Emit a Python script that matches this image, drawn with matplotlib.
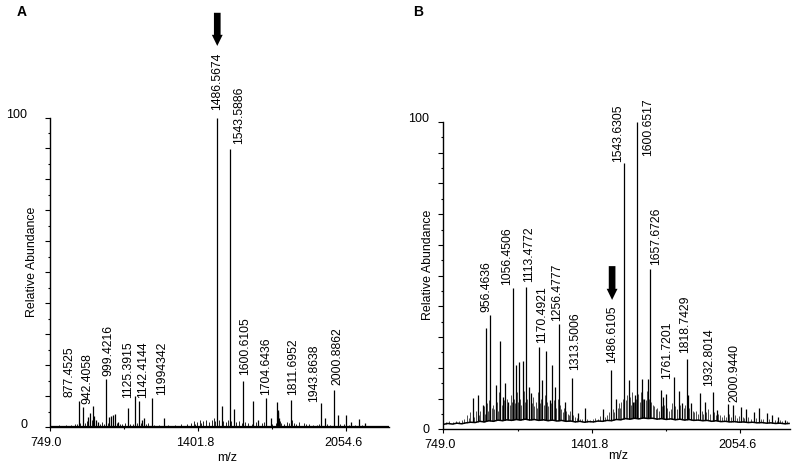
import matplotlib
matplotlib.use("Agg")
import matplotlib.pyplot as plt
import numpy as np
from matplotlib.patches import FancyArrowPatch
from matplotlib.transforms import ScaledTranslation

plt.rcParams['font.family'] = ['Liberation Sans', 'DejaVu Sans']

# ---------------- Panel A data ----------------
A_peak_mz = [877.4525, 898, 919, 929, 942.4058, 947, 955, 962, 999.4216, 1013, 1021, 1029,
             1038, 1051, 1095, 1125.3915, 1142.4144, 1158, 1166, 1199.4342, 1255,
             1486.5674, 1507, 1543.5886, 1561, 1600.6105, 1646, 1667, 1704.6436, 1723,
             1750.7, 1753.5, 1756.5, 1760, 1811.6952, 1943.8638, 1962, 2000.8862,
             2020.6, 2054.5, 2079, 2113, 2138]
A_peak_h = [8.6, 6.5, 3.2, 4.7, 6.9, 3.7, 2.2, 1.8, 15.5, 3.2, 3.5, 4.0,
            4.3, 1.8, 6.2, 10.1, 8.6, 2.2, 3.1, 9.5, 2.9,
            100.0, 6.9, 89.7, 5.8, 15.1, 8.6, 2.4, 9.4, 2.9,
            8.2, 5.6, 4.8, 3.0, 8.8, 8.0, 2.9, 11.9,
            4.0, 4.0, 1.8, 2.6, 1.3]
A_grass_mz = [790, 820, 845, 860, 870, 885, 905, 912, 935, 952, 970, 980, 990, 1005, 1045,
              1060, 1070, 1080, 1105, 1115, 1133, 1150, 1175, 1185, 1210, 1230, 1270, 1300,
              1330, 1355, 1370, 1385, 1392, 1400, 1412, 1418, 1425, 1440, 1452, 1465, 1475,
              1480, 1495, 1515, 1525, 1535, 1550, 1570, 1582, 1595, 1610, 1622, 1640, 1660,
              1685, 1695, 1730, 1745, 1765, 1770, 1782, 1795, 1805, 1818, 1825, 1835, 1848,
              1868, 1880, 1890, 1910, 1925, 1935, 1970, 1985, 2030, 2045, 2070, 2095, 2125,
              2160, 2190, 2220]
A_grass_h = [0.6, 0.8, 0.7, 1.2, 1.0, 1.5, 1.3, 2.0, 2.5, 1.5, 1.2, 1.8, 1.0, 1.3, 1.5,
             1.2, 1.0, 1.4, 1.0, 1.2, 1.5, 1.3, 1.0, 1.4, 0.8, 0.7, 0.6, 0.8,
             1.0, 1.2, 1.5, 2.0, 1.2, 1.8, 2.2, 1.5, 2.0, 2.5, 1.8, 2.4, 3.0,
             2.0, 2.5, 2.0, 1.8, 2.5, 2.0, 1.6, 2.0, 1.5, 1.8, 1.5, 1.2, 1.6,
             1.4, 1.8, 1.2, 1.5, 2.0, 1.4, 1.2, 1.6, 1.5, 2.2, 1.5, 1.2, 1.8,
             1.5, 1.2, 1.0, 0.8, 0.9, 1.0, 1.0, 0.8, 1.0, 1.2, 0.8, 0.7, 0.6,
             0.5, 0.5, 0.4]
A_labels = ['877.4525', '942.4058', '999.4216', '1125.3915', '1142.4144', '11994342',
            '1486.5674', '1543.5886', '1600.6105', '1704.6436', '1811.6952', '1943.8638',
            '2000.8862']
A_label_mz = [877.4525, 942.4058, 999.4216, 1125.3915, 1142.4144, 1199.4342,
              1486.5674, 1543.5886, 1600.6105, 1704.6436, 1811.6952, 1943.8638, 2000.8862]
A_arrow_mz = 1486.5674

# ---------------- Panel B data ----------------
B_peak_mz = [878, 900, 922, 936, 956.4636, 980, 1000, 1013, 1022, 1035, 1056.4506, 1069,
             1081, 1098.6, 1113.4772, 1125, 1135, 1170.4921, 1185, 1201, 1216, 1229, 1241,
             1256.4777, 1285, 1313.5006, 1340, 1371, 1453, 1486.6105, 1509, 1543.6305,
             1564, 1582, 1592, 1600.6517, 1622, 1633, 1649, 1657.6726, 1704.5, 1715, 1727,
             1761.7201, 1784, 1800, 1818.7429, 1826, 1840, 1876, 1898, 1932.8014, 1950,
             2000.9440, 2023, 2058, 2080, 2114, 2136, 2170, 2195, 2220, 2249]
B_peak_h = [10.1, 11.2, 7.8, 33.1, 37.2, 14.4, 28.6, 10.4, 15.0, 9.0, 45.9, 20.9,
            21.8, 22.2, 46.2, 13.9, 11.7, 26.9, 16.0, 25.6, 9.5, 20.8, 13.7,
            34.2, 9.0, 16.8, 5.2, 6.8, 6.5, 19.3, 9.8, 86.6,
            16.0, 9.0, 11.2, 100.0, 16.5, 9.8, 16.5, 52.2, 12.8, 10.4, 11.5,
            16.9, 12.5, 8.5, 22.8, 11.2, 8.5, 11.9, 8.8, 12.3, 6.3,
            8.2, 7.9, 7.2, 6.6, 5.7, 6.8, 5.2, 4.7, 3.9, 3.0]
B_grass_mz = [760, 775, 790, 805, 818, 830, 842, 852, 860, 868, 885, 893, 906, 912, 927, 931,
              942, 947, 951, 962, 969, 974, 985, 991, 995, 1005, 1017, 1027, 1031, 1042,
              1047, 1051, 1061, 1065, 1074, 1077, 1086, 1092, 1103, 1108, 1119, 1125, 1137,
              1142, 1148, 1155, 1160, 1165, 1176, 1180, 1191, 1196, 1206, 1211, 1223, 1235,
              1246, 1251, 1262, 1268, 1275, 1280, 1290, 1296, 1302, 1308, 1320, 1328, 1335,
              1348, 1360, 1380, 1392, 1405, 1418, 1430, 1440, 1460, 1470, 1478, 1495, 1500,
              1515, 1520, 1526, 1532, 1537, 1550, 1555, 1570, 1575, 1580, 1586, 1595, 1606,
              1612, 1617, 1628, 1639, 1644, 1652, 1664, 1670, 1676, 1683, 1690, 1696, 1710,
              1720, 1733, 1740, 1748, 1755, 1768, 1775, 1790, 1797, 1805, 1812, 1830, 1838,
              1845, 1852, 1860, 1868, 1884, 1890, 1905, 1912, 1920, 1940, 1948, 1958, 1966,
              1975, 1985, 1992, 2005, 2015, 2030, 2040, 2050, 2065, 2072, 2088, 2100, 2122,
              2145, 2155, 2180, 2205, 2215, 2230, 2240, 2260]
B_grass_h = [2.4, 2.6, 2.5, 2.8, 2.6, 3.0, 3.2, 4.5, 3.8, 5.5, 4.0, 5.8, 4.5, 6.0, 7.5, 5.0,
             8.5, 6.0, 9.5, 7.0, 8.0, 6.5, 9.0, 6.0, 12.0, 8.0, 9.5, 7.5, 10.0, 8.0,
             11.0, 9.0, 10.0, 8.5, 12.0, 9.0, 10.0, 8.0, 12.5, 9.0, 10.0, 13.0, 8.5,
             10.5, 7.5, 9.0, 7.0, 12.0, 8.5, 10.0, 8.0, 11.0, 9.0, 7.5, 8.5, 9.5,
             7.0, 10.0, 8.0, 6.5, 5.5, 7.0, 6.0, 5.0, 4.5, 6.0, 4.5, 4.0, 3.8,
             3.5, 3.3, 3.5, 3.0, 3.2, 3.6, 3.4, 4.2, 4.0, 4.8, 5.5, 6.5, 5.5,
             7.0, 8.5, 7.0, 9.0, 10.0, 9.5, 11.0, 10.5, 8.0, 12.0, 9.0, 10.0, 11.5,
             9.0, 12.0, 10.0, 9.5, 12.5, 10.0, 9.0, 8.0, 7.5, 6.5, 7.0, 6.0, 7.5,
             8.0, 7.0, 6.0, 6.5, 8.5, 7.5, 6.5, 8.0, 6.5, 7.0, 8.0, 7.0, 6.5,
             6.0, 5.5, 6.0, 5.0, 6.0, 5.0, 5.5, 6.5, 5.0, 5.5, 4.5, 5.0, 4.5,
             4.0, 4.5, 4.0, 5.0, 4.0, 4.5, 3.8, 4.2, 4.0, 3.6, 4.0, 3.5, 3.6,
             3.3, 3.5, 3.2, 3.0, 2.8, 2.9, 2.6, 2.7]
B_base_mz = [749, 769, 789, 809, 829, 849, 869, 889, 909, 929, 949, 969, 989, 1009, 1029,
             1049, 1069, 1089, 1109, 1129, 1149, 1169, 1189, 1209, 1229, 1249, 1269, 1289,
             1309, 1329, 1349, 1369, 1389, 1409, 1429, 1449, 1469, 1489, 1509, 1529, 1549,
             1569, 1589, 1609, 1629, 1649, 1669, 1689, 1709, 1729, 1749, 1769, 1789, 1809,
             1829, 1849, 1869, 1889, 1909, 1929, 1949, 1969, 1989, 2009, 2029, 2049, 2069,
             2089, 2109, 2129, 2149, 2169, 2189, 2209, 2229, 2249, 2269]
B_base_h = [1.6, 1.9, 1.7, 2.0, 1.8, 2.1, 2.3, 2.2, 2.6, 2.4, 2.8, 2.6, 3.0, 2.8, 3.1,
            2.9, 3.2, 3.0, 3.3, 3.0, 3.2, 2.9, 3.1, 2.8, 3.0, 2.7, 2.9, 2.6,
            2.7, 2.4, 2.6, 2.3, 2.5, 2.4, 2.7, 2.6, 2.9, 2.8, 3.2, 3.1, 3.5,
            3.3, 3.6, 3.4, 3.7, 3.5, 3.6, 3.3, 3.5, 3.2, 3.4, 3.1, 3.3, 3.0,
            3.2, 2.9, 3.0, 2.8, 2.9, 2.6, 2.8, 2.5, 2.6, 2.4, 2.5, 2.3, 2.4,
            2.2, 2.3, 2.1, 2.2, 2.0, 2.1, 1.9, 2.0, 1.8, 1.9]
B_labels = ['956.4636', '1056.4506', '1113.4772', '1170.4921', '1256.4777', '1313.5006',
            '1486.6105', '1543.6305', '1600.6517', '1657.6726', '1761.7201', '1818.7429',
            '1932.8014', '2000.9440']
B_label_mz = [956.4636, 1056.4506, 1113.4772, 1170.4921, 1256.4777, 1313.5006,
              1486.6105, 1543.6305, 1600.6517, 1657.6726, 1761.7201, 1818.7429,
              1932.8014, 2000.9440]
B_arrow_mz = 1486.6105

x_ticks = [749.0, 1401.8, 2054.6]
x_tick_labels = ['749.0', '1401.8', '2054.6']

# ---------------- layout (pixel offsets of labels) ----------------
A_label_off = [(-9, 4), (-6, 1.5), (2, 3), (-7, -2), (4, 2.5), (10.5, 3), (0.5, 8),
               (9, 5), (2.5, 5.5), (0, 3), (2, 5), (-7, 0.5), (3.5, 5.5)]
B_label_off = [(-4.5, 3.3), (-6, 3), (3, 5.3), (2.6, 3.4), (-2, 3.6), (3.4, 7.7), (1, 6.7),
               (-5.6, 1), (11.4, -34), (6.2, 4), (-6.7, -1.6), (-1.4, 6), (-3, 5.7),
               (6.5, 2.4)]

W, H = 800, 467
fig = plt.figure(figsize=(8, 4.67), dpi=100)
axA = fig.add_axes([49.5 / W, (H - 427.3) / H, (388.5 - 49.5) / W, (427.3 - 117.5) / H])
axB = fig.add_axes([443.3 / W, (H - 429.3) / H, (790 - 443.3) / W, (429.3 - 122.0) / H])

FS = 8.8


def style(ax, xmax, ypad, lab_dy):
    ax.set_xlim(749.0, xmax)
    ax.set_ylim(0, 100)
    for s in ['top', 'right']:
        ax.spines[s].set_visible(False)
    for s in ['left', 'bottom']:
        ax.spines[s].set_linewidth(1.0)
    ax.set_xticks(x_ticks)
    ax.set_xticklabels(x_tick_labels, fontsize=9)
    ax.set_xticks([(x_ticks[0] + x_ticks[1]) / 2, (x_ticks[1] + x_ticks[2]) / 2], minor=True)
    yt = list(range(0, 101, 10))
    ax.set_yticks(yt)
    ax.set_yticklabels([str(v) if v in (0, 100) else '' for v in yt], fontsize=9)
    ax.set_yticks(list(range(5, 100, 10)), minor=True)
    ax.tick_params(axis='x', which='major', length=3.0, width=0.8, pad=4)
    ax.tick_params(axis='x', which='minor', length=1.7, width=0.8)
    ax.tick_params(axis='y', which='major', length=3.4, width=0.8, pad=ypad)
    ax.tick_params(axis='y', which='minor', length=1.7, width=0.8)
    for t, dy in zip([ax.yaxis.get_major_ticks()[0], ax.yaxis.get_major_ticks()[-1]], lab_dy):
        t.label1.set_transform(t.label1.get_transform() +
                               ScaledTranslation(0, dy / 100, fig.dpi_scale_trans))
    for lbl in ax.get_xticklabels():
        lbl.set_transform(lbl.get_transform() +
                          ScaledTranslation(-3 / 100, 0, fig.dpi_scale_trans))


def label_peaks(ax, peak_mz, peak_h, labels, label_mz, offs):
    lookup = dict(zip(peak_mz, peak_h))
    for txt, mz, (dx, dy) in zip(labels, label_mz, offs):
        ax.annotate(txt, xy=(mz, lookup[mz]), xytext=(dx, dy), textcoords='offset pixels',
                    rotation=90, ha='center', va='bottom', fontsize=FS,
                    annotation_clip=False)


def arrow(ax, mz, y_tail, y_tip, dx_px):
    off = ScaledTranslation(dx_px / 100, 0, fig.dpi_scale_trans)
    a = FancyArrowPatch((mz, y_tail), (mz, y_tip), transform=ax.transData + off,
                        arrowstyle='simple,head_length=0.8,head_width=0.78,tail_width=0.48',
                        mutation_scale=10, color='black', lw=0, shrinkA=0, shrinkB=0,
                        clip_on=False)
    ax.add_patch(a)


# ---- Panel A ----
style(axA, 2242, 12.5, [3.5, 3.5])
axA.vlines(A_grass_mz, 0, A_grass_h, color='black', lw=0.6, zorder=1.5)
axA.vlines(A_peak_mz, 0, A_peak_h, color='black', lw=0.9, zorder=1.6, clip_on=False)
axA.axhline(0.3, color='black', lw=0.9, zorder=1.7)
label_peaks(axA, A_peak_mz, A_peak_h, A_labels, A_label_mz, A_label_off)
arrow(axA, A_arrow_mz, 133.8, 123.1, 0.3)
axA.text(-0.0526, 0.5336, 'Relative Abundance', rotation=90, ha='center', va='center',
         fontsize=8.9, transform=axA.transAxes)
axA.text(0.525, -0.099, 'm/z', ha='center', va='center', fontsize=9, transform=axA.transAxes)

# ---- Panel B ----
style(axB, 2273, 6.5, [1, 4.5])
axB.vlines(B_grass_mz, 0, B_grass_h, color='#333333', lw=0.6, zorder=1.5)
axB.vlines(B_peak_mz, 0, B_peak_h, color='black', lw=0.9, zorder=1.6, clip_on=False)
axB.fill_between(B_base_mz, 0, B_base_h, color='white', lw=0, zorder=1.8)
axB.plot(B_base_mz, B_base_h, color='black', lw=1.1, zorder=1.9)
label_peaks(axB, B_peak_mz, B_peak_h, B_labels, B_label_mz, B_label_off)
arrow(axB, B_arrow_mz, 53.1, 42.1, 1.0)
axB.text(-0.0434, 0.5337, 'Relative Abundance', rotation=90, ha='center', va='center',
         fontsize=8.9, transform=axB.transAxes)
axB.text(0.505, -0.087, 'm/z', ha='center', va='center', fontsize=9, transform=axB.transAxes)

fig.text(22 / W, 1 - 12 / H, 'A', fontsize=10, fontweight='bold', ha='center', va='center')
fig.text(418.5 / W, 1 - 11.5 / H, 'B', fontsize=10, fontweight='bold', ha='center', va='center')

fig.savefig('out.png', dpi=100)
